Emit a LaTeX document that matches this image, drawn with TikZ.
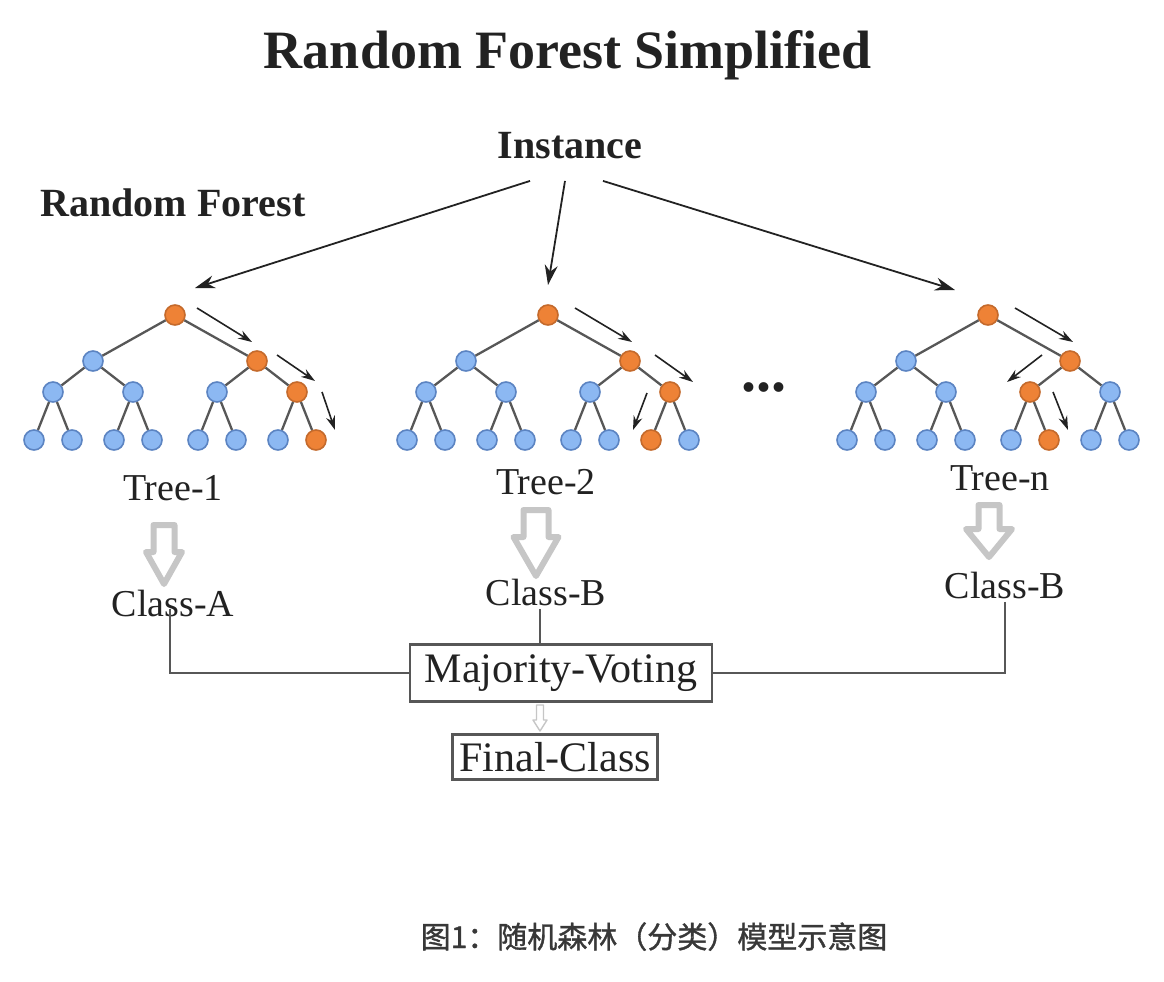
\documentclass[tikz,border=0pt]{standalone}
\usepackage{fontspec}
\setmainfont{Liberation Serif}
\newfontfamily\cjk{Noto Sans CJK SC}[FakeBold=1.2]
\usetikzlibrary{arrows.meta}

\definecolor{hotfill}{HTML}{EE8236}
\definecolor{hotdraw}{HTML}{C46A2C}
\definecolor{coldfill}{HTML}{8CB8F2}
\definecolor{colddraw}{HTML}{5C84C2}
\definecolor{branchgray}{HTML}{575757}
\definecolor{inkdark}{HTML}{222222}
\definecolor{arrgray}{HTML}{C6C6C6}

% hollow down arrow: x, top, head start, tip, half shaft, half head
\newcommand{\hollowdown}[7][]{%
  \draw[hollowarr,#1] (#2-#6,#3) -- (#2+#6,#3) -- (#2+#6,#4) -- (#2+#7,#4) -- (#2,#5)
    -- (#2-#7,#4) -- (#2-#6,#4) -- cycle;}

\tikzset{
  treedot/.style={circle, minimum size=20pt, inner sep=0pt, line width=1.6pt},
  branch/.style={draw=branchgray, line width=2.3pt},
  pathtip/.style={-{Stealth[length=14pt,width=9pt]}, line width=1.6pt, draw=inkdark},
  feed/.style={-{Stealth[length=20pt,width=13pt]}, line width=1.8pt, draw=inkdark},
  headtxt/.style={font=\fontsize{40}{46}\selectfont\bfseries, text=inkdark, anchor=base},
  plaintxt/.style={font=\fontsize{38}{44}\selectfont, text=inkdark, anchor=base},
  votebox/.style={draw=branchgray, line width=2.4pt, font=\fontsize{42}{48}\selectfont, text=inkdark, inner sep=0pt},
  hollowarr/.style={draw=arrgray, fill=white, line width=6pt, line join=round},
  joinline/.style={draw=branchgray, line width=2pt}
}

\begin{document}
\begin{tikzpicture}[x=1pt,y=-1pt]
\useasboundingbox (0,0) rectangle (1164,982);

% titles
\node[headtxt, font=\fontsize{54}{60}\selectfont\bfseries] (title) at (568,69) {Random Forest Simplified};
\node[headtxt] (inst) at (570,158) {Instance};
\node[headtxt] (rf) at (173,216) {Random Forest};

% the three trees
\foreach \t/\rx/\c/\d in {1/175/7/15, 2/548/7/14, 3/988/6/13}{
  \foreach \i/\dx/\dy in {1/0/0, 2/-82/46, 3/82/46, 4/-122/77, 5/-42/77, 6/42/77, 7/122/77,
      8/-141/125, 9/-103/125, 10/-61/125, 11/-23/125, 12/23/125, 13/61/125, 14/103/125, 15/141/125}{
    \pgfmathtruncatemacro\ishot{(\i==1)||(\i==3)||(\i==\c)||(\i==\d)}
    \ifnum\ishot=1 \def\dotfill{hotfill}\def\dotdraw{hotdraw}\else\def\dotfill{coldfill}\def\dotdraw{colddraw}\fi
    \node[treedot, fill=\dotfill, draw=\dotdraw] (t\t-\i) at (\rx+\dx,315+\dy) {};
  }
  \foreach \i in {2,...,15}{
    \pgfmathtruncatemacro\p{floor(\i/2)}
    \draw[branch] (t\t-\p) -- (t\t-\i);
  }
}

% decision paths
\draw[pathtip] ([shift={(22,-7)}]t1-1.center) -- ([shift={(-5,-19)}]t1-3.center);
\draw[pathtip] ([shift={(20,-6)}]t1-3.center) -- ([shift={(18,-11)}]t1-7.center);
\draw[pathtip] ([shift={(25,0)}]t1-7.center) -- ([shift={(19,-10)}]t1-15.center);
\draw[pathtip] ([shift={(27,-7)}]t2-1.center) -- ([shift={(2,-19)}]t2-3.center);
\draw[pathtip] ([shift={(25,-6)}]t2-3.center) -- ([shift={(23,-10)}]t2-7.center);
\draw[pathtip] ([shift={(-23,1)}]t2-7.center) -- ([shift={(-18,-10)}]t2-14.center);
\draw[pathtip] ([shift={(27,-7)}]t3-1.center) -- ([shift={(3,-19)}]t3-3.center);
\draw[pathtip] ([shift={(-28,-6)}]t3-3.center) -- ([shift={(-23,-10)}]t3-6.center);
\draw[pathtip] ([shift={(23,0)}]t3-6.center) -- ([shift={(19,-10)}]t3-13.center);

\node[headtxt, font=\fontsize{60}{66}\selectfont\bfseries] (dots) at (764,391) {...};

% instance feeds every tree
\coordinate (hit1) at (195,288);
\coordinate (hit2) at (548,285);
\coordinate (hit3) at (955,290);
\draw[feed] ([shift={(-40,19)}]inst.south) -- (hit1);
\draw[feed] ([shift={(-5,19)}]inst.south) -- (hit2);
\draw[feed] ([shift={(33,19)}]inst.south) -- (hit3);

% tree outputs
\node[plaintxt] (tl1) at (173,500) {Tree-1};
\node[plaintxt] (tl2) at (546,494) {Tree-2};
\node[plaintxt] (tl3) at (1000,490) {Tree-n};
\hollowdown{164}{525}{552}{584}{10.5}{18}
\hollowdown{536}{510}{537}{576}{12.5}{22.5}
\hollowdown{989}{505}{529}{557}{10.5}{23}
\node[plaintxt] (ca1) at (173,616) {Class-A};
\node[plaintxt] (cb2) at (546,605) {Class-B};
\node[plaintxt] (cb3) at (1005,598) {Class-B};

% voting
\node[votebox, minimum width=302pt, minimum height=57pt] (mv) at (561,673) {Majority-Voting};
\node[votebox, minimum width=205pt, minimum height=45pt] (fc) at (555,757) {Final-Class};
\hollowdown[line width=1.4pt]{540}{705}{720}{731}{3.5}{7}
\draw[joinline] ([xshift=-3pt]cb2.south -| ca1.south) |- (mv.west);
\draw[joinline] ([xshift=-6pt]cb2.south) -- ([xshift=-6pt]cb2.south |- mv.north);
\draw[joinline] (cb3.south) |- (mv.east);

% caption
\node[anchor=base, font=\cjk\fontsize{30}{36}\selectfont, text=inkdark!90] (cap) at (654,948) {图1：随机森林（分类）模型示意图};
\end{tikzpicture}
\end{document}
